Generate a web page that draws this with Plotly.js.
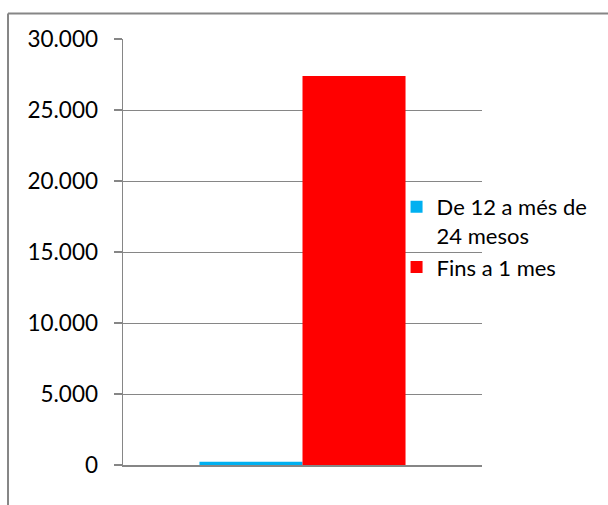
<!DOCTYPE html>
<html><head><meta charset="utf-8">
<script src="https://cdn.plot.ly/plotly-3.0.1.min.js"></script>
<style>html,body{margin:0;padding:0;background:#fff;}#chart{width:608px;height:505px;}</style>
</head><body><div id="chart"></div>
<script>
const categories = [""];
const seriesNames = ["De 12 a més de<br>24 mesos", "Fins a 1 mes"];
const valuesBlue = [230];
const valuesRed = [27400];
const yTicks = [0, 5000, 10000, 15000, 20000, 25000, 30000];

const traces = [
  {type:"bar", x:categories, y:valuesBlue, name:seriesNames[0], marker:{color:"#00B0F0"}},
  {type:"bar", x:categories, y:valuesRed, name:seriesNames[1], marker:{color:"#FF0000"}}
];
const grey = "#868686";
const layout = {
  width:608, height:505,
  margin:{l:123, r:126, t:39, b:39.5, autoexpand:false},
  paper_bgcolor:"#fff", plot_bgcolor:"#fff",
  separators:",.",
  font:{family:"Lato, 'Liberation Sans', sans-serif", size:22.5, color:"#000"},
  barmode:"group", bargap:0.426, bargroupgap:0,
  showlegend:true,
  legend:{x:0.762, y:0.655, xanchor:"left", yanchor:"top", bgcolor:"rgba(0,0,0,0)", traceorder:"normal",
          font:{size:22}, itemwidth:30, tracegroupgap:0, valign:"top"},
  xaxis:{type:"category", showticklabels:false, showline:true, linecolor:grey, linewidth:1.5, ticks:"", showgrid:false, fixedrange:true, automargin:false},
  yaxis:{range:[0,30000], tickvals:yTicks, tickformat:",d", showgrid:true, gridcolor:grey, gridwidth:1,
         showline:true, linecolor:grey, linewidth:1.5, ticks:"outside", ticklen:8, tickcolor:grey, tickwidth:1.5,
         zeroline:false, ticklabelstandoff:11, automargin:false},
  shapes:[
    {type:"line", xref:"paper", yref:"paper", x0:-0.3203, x1:-0.3203, y0:-0.1, y1:1.0598, line:{color:grey, width:2}},
    {type:"line", xref:"paper", yref:"paper", x0:-0.3203, x1:1.36, y0:1.0598, y1:1.0598, line:{color:grey, width:2}}
  ]
};
Plotly.newPlot("chart", traces, layout, {displayModeBar:false, staticPlot:true});
</script></body></html>
